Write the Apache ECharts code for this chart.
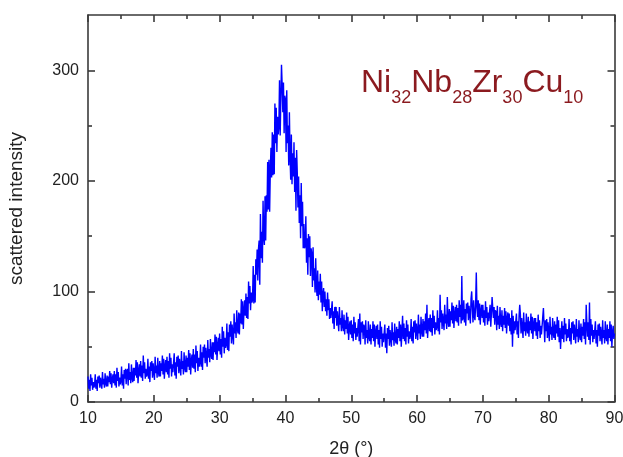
<!DOCTYPE html>
<html>
<head>
<meta charset="utf-8">
<script src="https://cdn.jsdelivr.net/npm/echarts@6/dist/echarts.min.js"></script>
<style>
html,body{margin:0;padding:0;background:#fff;}
#chart{width:623px;height:457px;}
</style>
</head>
<body>
<div id="chart"></div>
<script>
// Scan grid: 2θ from 10° to 90° in 0.1° steps
const thetaStart = 10;
const thetaStep = 0.1;
// Scattered intensity (10 readings per degree, one row per degree)
const intensity = [
  23,12,20,10,25,15,22,11,18,13,   // 10
  15,25,12,20,10,23,17,24,13,22,   // 11
  23,12,27,16,21,13,26,17,14,24,   // 12
  14,23,18,28,16,26,13,21,25,17,   // 13
  28,15,25,13,31,19,27,14,22,16,   // 14
  19,32,15,25,12,29,21,30,16,28,   // 15
  30,15,35,20,27,17,34,22,18,31,   // 16
  19,31,24,38,22,36,17,28,34,23,   // 17
  37,22,33,19,42,26,36,21,30,23,   // 18
  25,39,21,32,18,36,28,37,22,35,   // 19
  36,20,41,26,33,22,40,27,23,37,   // 20
  23,35,28,42,25,39,21,32,38,27,   // 21
  41,25,37,22,44,30,40,23,34,27,   // 22
  28,44,24,36,21,41,32,42,26,39,   // 23
  40,24,46,30,37,25,45,31,27,42,   // 24
  27,40,32,47,29,44,25,37,43,31,   // 25
  48,30,43,27,51,35,46,28,40,32,   // 26
  36,52,32,45,29,50,40,52,35,49,   // 27
  49,32,56,40,48,36,57,43,39,54,   // 28
  38,54,45,61,43,59,38,51,58,46,   // 29
  62,43,57,40,68,50,64,44,58,49,   // 30
  52,71,47,63,46,70,59,73,53,70,   // 31
  71,52,80,62,72,58,83,66,62,81,   // 32
  61,80,71,93,70,91,66,83,92,78,   // 33
  98,76,95,75,109,89,105,83,99,90,          // 34
  92,123,89,115,90,129,115,138,110,138,     // 35
  146,106,170,130,154,126,182,150,142,186,  // 36
  146,187,172,217,174,219,172,209,230,203,  // 37
  244,205,242,206,270,234,266,226,258,242,  // 38
  249,291,241,274,305,287,262,289,243,277,  // 39
  274,226,282,234,250,214,262,222,201,242,  // 40
  197,225,204,235,190,221,173,228,207,176,  // 41
  204,162,187,148,198,159,181,139,161,139,  // 42
  141,168,126,148,115,152,131,150,114,139,  // 43
  134,104,140,110,121,99,130,105,96,119,    // 44
  92,109,97,116,90,109,82,97,103,86,        // 45
  100,82,93,78,99,83,93,75,85,76,          // 46
  76,91,71,82,66,86,76,86,69,82,           // 47
  81,64,86,70,76,64,83,69,64,79,           // 48
  61,74,66,81,62,77,56,68,73,61,           // 49
  74,58,70,55,77,62,72,56,67,59,           // 50
  60,75,55,80,52,72,63,73,57,70,           // 51
  68,52,74,58,65,53,73,59,55,70,           // 52
  52,66,58,73,55,70,50,63,69,57,           // 53
  70,52,65,49,73,57,68,50,62,54,           // 54
  54,70,49,62,44,67,57,69,51,65,           // 55
  66,50,72,56,63,51,71,57,53,68,           // 56
  52,66,58,73,55,70,50,63,78,57,           // 57
  71,55,67,52,74,59,70,53,64,57,           // 58
  60,75,55,68,53,73,63,74,57,71,           // 59
  72,56,79,62,70,57,77,64,59,75,           // 60
  59,73,65,80,62,88,58,70,76,64,           // 61
  79,63,76,60,83,67,78,61,72,65,           // 62
  68,83,64,76,61,97,72,83,66,80,           // 63
  81,65,88,71,79,66,95,73,68,84,           // 64
  68,82,74,90,71,87,67,79,86,73,           // 65
  88,72,85,69,92,77,88,71,114,74,          // 66
  76,92,72,84,69,89,80,90,74,87,           // 67
  87,71,93,100,84,72,92,78,74,89,          // 68
  117,85,77,92,74,89,70,82,88,76,          // 69
  88,72,83,69,91,76,86,70,81,73,           // 70
  72,88,68,80,95,85,76,86,70,83,           // 71
  81,65,87,70,78,66,86,72,68,83,           // 72
  64,78,70,85,67,82,62,75,81,69,           // 73
  80,64,76,61,83,50,78,62,73,65,           // 74
  66,80,61,73,58,78,88,79,62,76,           // 75
  75,58,81,64,72,60,80,66,62,77,           // 76
  59,73,65,80,62,77,57,70,76,64,           // 77
  76,60,72,57,79,64,74,58,69,61,           // 78
  62,77,85,69,54,74,64,75,58,72,           // 79
  71,55,77,61,68,56,76,62,58,73,           // 80
  56,70,62,77,59,74,54,67,48,61,           // 81
  73,57,69,54,76,61,71,55,66,58,           // 82
  60,75,55,67,52,72,62,73,56,70,           // 83
  69,53,75,59,66,54,74,60,56,71,           // 84
  54,68,60,75,57,72,52,88,71,59,           // 85
  72,56,90,52,75,60,70,54,65,57,           // 86
  58,73,53,65,50,70,60,71,55,68,           // 87
  68,52,74,58,65,53,73,59,55,70,           // 88
  52,66,58,73,55,70,50,63,69,57,           // 89
  62                                       // 90
];
const xTicks = [10, 20, 30, 40, 50, 60, 70, 80, 90];
const yMajorTicks = [0, 100, 200, 300];
const yMinorTicks = [50, 150, 250];

const points = intensity.map((v, i) => [+(thetaStart + i * thetaStep).toFixed(2), v]);

const frame = {color: '#3a3a3a', width: 1.6};
const fontFam = '"Liberation Sans", Arial, sans-serif';
const labelStyle = {fontFamily: fontFam, fontSize: 16, color: '#222'};

const chart = echarts.init(document.getElementById('chart'), null, {renderer: 'canvas'});
chart.setOption({
  animation: false,
  backgroundColor: '#fff',
  grid: {left: 88, right: 8.5, top: 15, bottom: 55, containLabel: false, outerBoundsMode: 'none'},
  xAxis: [
    {
      type: 'value', min: xTicks[0], max: xTicks[xTicks.length - 1], interval: 10, position: 'bottom',
      axisLine: {onZero: false, lineStyle: frame},
      axisTick: {inside: true, length: 7, lineStyle: frame},
      minorTick: {show: true, splitNumber: 2, length: 4, lineStyle: frame},
      splitLine: {show: false},
      axisLabel: Object.assign({margin: 9}, labelStyle),
      name: '2θ (°)', nameLocation: 'middle', nameGap: 38,
      nameTextStyle: {fontFamily: fontFam, fontSize: 18, color: '#222'}
    },
    {
      type: 'value', min: xTicks[0], max: xTicks[xTicks.length - 1], interval: 10, position: 'top',
      axisLine: {onZero: false, lineStyle: frame},
      axisTick: {inside: true, length: 7, lineStyle: frame},
      minorTick: {show: true, splitNumber: 2, length: 4, lineStyle: frame},
      splitLine: {show: false},
      axisLabel: {show: false}
    }
  ],
  yAxis: [
    {
      type: 'value', min: 0, max: 350, interval: 50, position: 'left',
      axisLine: {onZero: false, lineStyle: frame},
      axisTick: {inside: true, length: 7, lineStyle: frame, customValues: yMajorTicks},
      splitLine: {show: false},
      axisLabel: Object.assign({margin: 9, customValues: yMajorTicks}, labelStyle),
      name: 'scattered intensity', nameLocation: 'middle', nameGap: 62, nameRotate: 90,
      nameTextStyle: {fontFamily: fontFam, fontSize: 19, color: '#222'}
    },
    {
      type: 'value', min: 0, max: 350, interval: 50, position: 'left',
      axisLine: {show: false},
      axisTick: {inside: true, length: 4, lineStyle: frame, customValues: yMinorTicks},
      splitLine: {show: false},
      axisLabel: {show: false}
    },
    {
      type: 'value', min: 0, max: 350, interval: 50, position: 'right',
      axisLine: {onZero: false, lineStyle: frame},
      axisTick: {inside: true, length: 7, lineStyle: frame, customValues: yMajorTicks},
      splitLine: {show: false},
      axisLabel: {show: false}
    },
    {
      type: 'value', min: 0, max: 350, interval: 50, position: 'right',
      axisLine: {show: false},
      axisTick: {inside: true, length: 4, lineStyle: frame, customValues: yMinorTicks},
      splitLine: {show: false},
      axisLabel: {show: false}
    }
  ],
  graphic: [{
    type: 'text', left: 361, top: 67, z: 10,
    style: {
      text: 'Ni{s|32}Nb{s|28}Zr{s|30}Cu{s|10}',
      fill: '#8b1a1f',
      font: '32px "Liberation Sans", Arial, sans-serif',
      verticalAlign: 'top',
      rich: {
        s: {fontSize: 18, fill: '#8b1a1f', fontFamily: fontFam, verticalAlign: 'top', padding: [31, 0, 0, 0]}
      }
    }
  }],
  series: [{
    type: 'line', xAxisIndex: 0, yAxisIndex: 0,
    data: points, showSymbol: false, symbol: 'none',
    lineStyle: {color: '#0000ff', width: 1.4},
    clip: true
  }]
});
</script>
</body>
</html>
